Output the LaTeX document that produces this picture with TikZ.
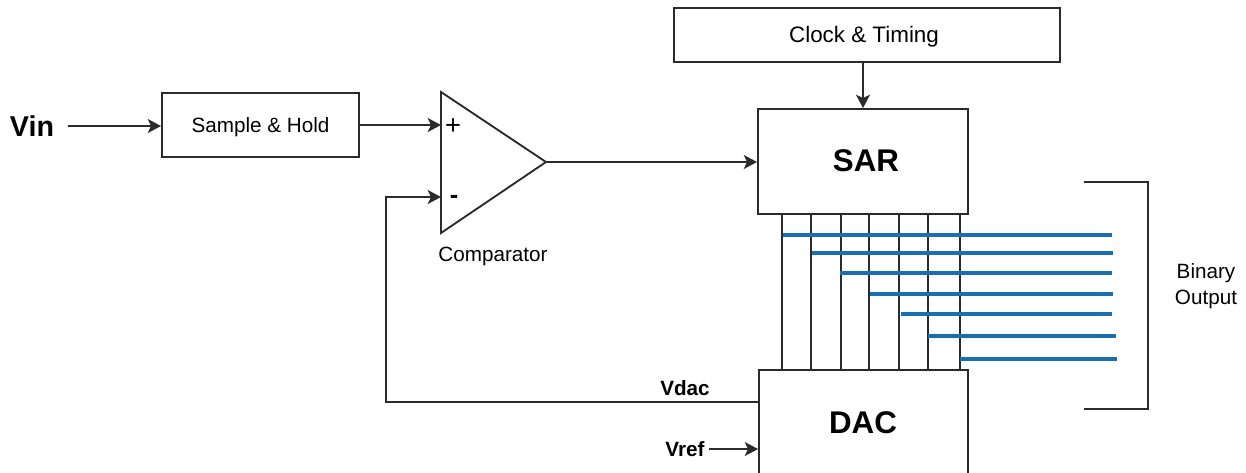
\documentclass[tikz,border=0pt]{standalone}
\usepackage{fontspec}
\setmainfont{Liberation Sans}
\usetikzlibrary{arrows.meta}
\definecolor{busblue}{HTML}{1A6FB0}
\definecolor{ink}{HTML}{2B2B2B}
\tikzset{
  box/.style={draw=ink, line width=1.4pt, fill=white, inner sep=0pt},
  arr/.style={draw=ink, line width=1.4pt, -{Stealth[length=10pt,width=10.5pt,inset=2.5pt]}},
  wire/.style={draw=ink, line width=1.4pt},
  bus/.style={line width=2.4pt, busblue},
  lbl/.style={inner sep=0pt, font=\fontsize{15.5}{19.5}\selectfont},
  blbl/.style={inner sep=0pt, font=\fontsize{15.5}{19.5}\selectfont\bfseries},
  big/.style={inner sep=0pt, font=\fontsize{23.5}{28}\selectfont\bfseries}
}
\begin{document}
\begin{tikzpicture}[x=0.75pt,y=-0.75pt]
\useasboundingbox (0,0) rectangle (1246,472);
% blocks
\node[box, minimum width=289.5pt, minimum height=40.5pt] (clock) at (867,35) {};
\node[inner sep=0pt, font=\fontsize{16.8}{20}\selectfont] (clocklbl) at (864,37) {Clock \& Timing};
\node[box, minimum width=147.75pt, minimum height=48pt] (sh) at (260.5,125) {};
\node[lbl] (shlbl) at (260.5,127) {Sample \& Hold};
\node[box, minimum width=157.5pt, minimum height=78.75pt] (sar) at (863,161.5) {};
\node[big] (sarlbl) at (866,161) {SAR};
\node[box, minimum width=156.75pt, minimum height=84pt] (dac) at (863.5,426) {};
\node[big] (daclbl) at (863,423) {DAC};
% comparator
\coordinate (ctop) at (441,92);
\coordinate (cbot) at (441,233);
\coordinate (apex) at (546,162);
\coordinate (plus) at (441,125);
\coordinate (minus) at (441,197);
\draw[wire, line join=miter] (ctop) -- (apex) -- (cbot) -- cycle;
\node[inner sep=0pt, font=\fontsize{20.5}{24}\selectfont] (plussign) at (453,127) {+};
\node[inner sep=0pt, font=\fontsize{19}{22}\selectfont\bfseries] (minussign) at (454,199) {-};
\node[lbl] (complbl) at (493,256) {Comparator};
% labels
\node[inner sep=0pt, font=\fontsize{21.5}{26}\selectfont\bfseries] (vin) at (32,126) {Vin};
\node[blbl] (vdac) at (685,388) {Vdac};
\node[blbl] (vref) at (685,449) {Vref};
\node[lbl, align=center] (binout) at (1206,286) {Binary\\Output};
% connectors
\draw[arr, shorten <=10pt] (vin.east) -- (sh.west |- vin.east);
\draw[arr] (sh.east) -- (plus);
\draw[arr] (apex) -- (sar.west |- apex);
\draw[arr] (clock.south -| sar.north) -- (sar.north);
\coordinate (fb) at (dac.west |- 0,402);
\draw[arr] (fb) -- ++(-372,0) |- (minus);
\draw[arr, shorten <=3pt] (vref.east) -- (dac.west |- vref.east);
% bit lines between SAR and DAC
\foreach \x in {782,811,841,869,899,928,960} {
  \draw[wire] (sar.south -| \x,0) -- (dac.north -| \x,0);
}
% binary output bus lines
\foreach \x/\y/\e in {783/235/1112, 812/253/1113, 840/273/1112, 870/294/1113, 901/314/1112, 928/336/1116, 960/359/1117} {
  \draw[bus] (\x,\y) -- (\e,\y);
}
% bracket
\coordinate (bt) at (1084,182);
\coordinate (bb) at (1084,409);
\draw[wire] (bt) -- (1148,182) -- (1148,409) -- (bb);
\end{tikzpicture}
\end{document}
